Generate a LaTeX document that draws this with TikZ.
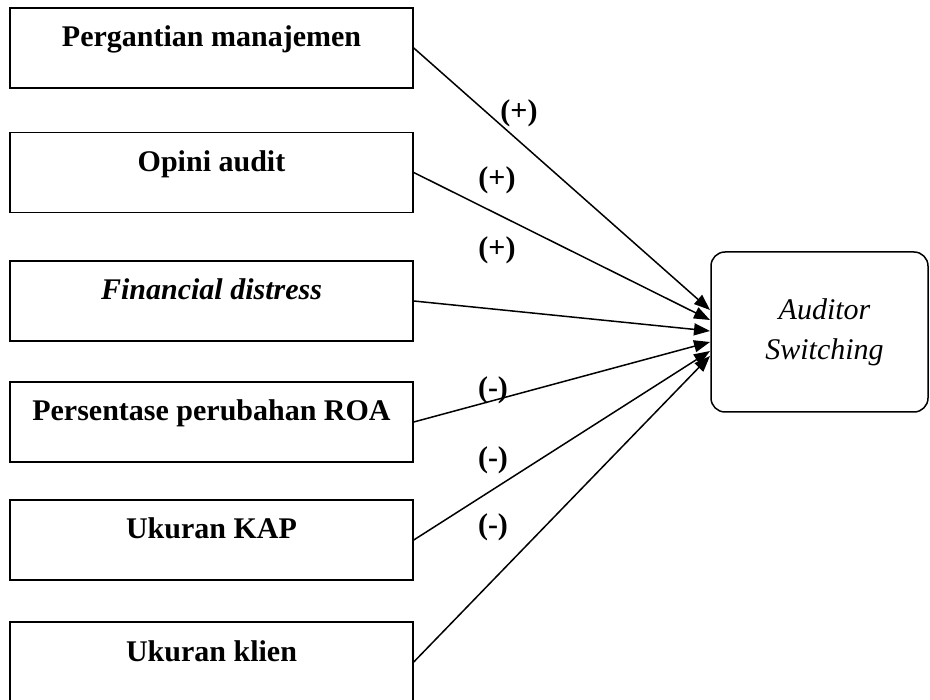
\documentclass[tikz,border=0pt]{standalone}
\usepackage{fontspec}
\setmainfont{Liberation Serif}
\usepackage{tikz}
\usetikzlibrary{arrows.meta,positioning,calc}

\tikzset{varbox/.style={draw, rectangle, minimum width=403pt, inner sep=0pt,
    text height=39pt, text depth=41pt, font=\fontsize{30}{40}\selectfont\bfseries},
  sign/.style={font=\fontsize{30}{40}\selectfont\bfseries}}

\begin{document}
\begin{tikzpicture}
[x=1pt,y=-1pt,line width=1.5pt,
			-{Triangle[length=16pt,width=12pt]}]
\useasboundingbox (0,0) rectangle (930,700);

\node (b1) at (211.5,48)[varbox] {Pergantian manajemen};
\node (b2) at (211.5,172.5)[varbox] {Opini audit};
\node (b3) at (211.5,301)[varbox] {\itshape Financial distress};
\node (b4) at (211.5,422)[varbox] {Persentase perubahan ROA};
\node (b5) at (211.5,540)[varbox] {Ukuran KAP};
\node (b6) at (211.5,662)[varbox] {Ukuran klien};

\node (sw) at (819.5,332)[draw,rounded corners=14pt,minimum width=217pt,
	minimum height=160pt,align=center,font=\fontsize{30}{40}\selectfont\itshape]
	{\hspace*{10pt}Auditor\\\hspace*{10pt}Switching};

\coordinate (t1) at (710,310);
\coordinate (t2) at (710,320);
\coordinate (t3) at (710,331);
\coordinate (t4) at (710,342);
\coordinate (t5) at (710,351);
\coordinate (t6) at (710,356);

\draw (b1.east) -- (t1);
\draw (b2.east) -- (t2);
\draw (b3.east) -- (t3);
\draw (b4.east) -- (t4);
\draw (b5.east) -- (t5);
\draw (b6.east) -- (t6);

\node (s1) at (519,113)[sign] {(+)};
\node (s2) at (497,180)[sign] {(+)};
\node (s3) at (497,250)[sign] {(+)};
\node (s4) at (493,390)[sign] {(-)};
\node (s5) at (493,460)[sign] {(-)};
\node (s6) at (493,527)[sign] {(-)};

\end{tikzpicture}
\end{document}
